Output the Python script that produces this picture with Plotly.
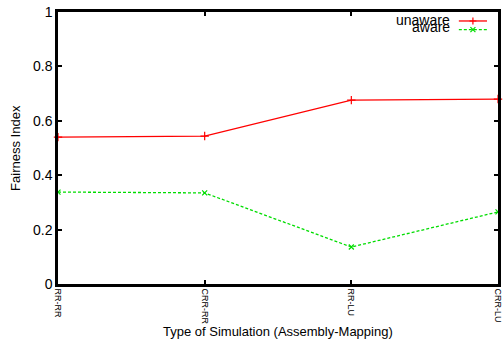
import plotly.graph_objects as go

categories = ["RR-RR", "CRR-RR", "RR-LU", "CRR-LU"]
unaware = [0.540, 0.544, 0.676, 0.680]
aware = [0.338, 0.335, 0.136, 0.265]
yticks = [0, 0.2, 0.4, 0.6, 0.8, 1]
ytick_labels = ["0", "0.2", "0.4", "0.6", "0.8", "1"]

xs = list(range(len(categories)))
font = "Liberation Sans, Arial, sans-serif"

fig = go.Figure()
fig.add_trace(go.Scatter(x=xs, y=unaware, mode="lines+markers", name="unaware",
                         line=dict(color="#ff0000", width=1.3),
                         marker=dict(symbol="cross-thin", size=6, line=dict(color="#ff0000", width=1.2)),
                         cliponaxis=False, showlegend=False))
fig.add_trace(go.Scatter(x=xs, y=aware, mode="lines+markers", name="aware",
                         line=dict(color="#00dd00", width=1.3, dash="3px,2px"),
                         marker=dict(symbol="x-thin", size=5, line=dict(color="#00dd00", width=1.2)),
                         cliponaxis=False, showlegend=False))

# manual legend (gnuplot style: text left, sample right)
leg = [("unaware", "#ff0000", "solid", 0.967, 0.972, "cross-thin"),
       ("aware", "#00dd00", "3px,2px", 0.935, 0.944, "x-thin")]
for name, col, dash, ly, ty, sym in leg:
    fig.add_shape(type="line", xref="paper", yref="paper", x0=0.911, x1=0.975, y0=ly, y1=ly,
                  line=dict(color=col, width=1.3, dash=dash))
    fig.add_annotation(xref="paper", yref="paper", x=0.895, y=ty, text=name, showarrow=False,
                       xanchor="right", yanchor="middle", font=dict(family=font, size=14, color="#000"))
    fig.add_trace(go.Scatter(x=[(0.911 + 0.975) / 2 * 3], y=[ly], mode="markers",
                             marker=dict(symbol=sym, size=5, line=dict(color=col, width=1.2)),
                             showlegend=False, hoverinfo="skip", cliponaxis=False))

fig.add_annotation(xref="paper", yref="paper", x=0.5, y=-0.173, yanchor="middle", xanchor="center",
                   text="Type of Simulation (Assembly-Mapping)", showarrow=False,
                   font=dict(family=font, size=13, color="#000"))
fig.add_annotation(xref="paper", yref="paper", x=-0.098, y=0.5, yanchor="middle", xanchor="center",
                   text="Fairness Index", showarrow=False, textangle=-90,
                   font=dict(family=font, size=13, color="#000"))

fig.update_layout(
    width=503, height=345,
    margin=dict(l=58, r=5, t=12, b=61),
    paper_bgcolor="white", plot_bgcolor="white",
    font=dict(family=font, color="#000"),
    showlegend=False,
    xaxis=dict(range=[0, 3], tickvals=xs, ticktext=categories, tickangle=90, automargin=False,
               ticklabeloverflow="allow",
               tickfont=dict(size=9), ticks="inside", ticklen=4, tickwidth=2, tickcolor="#000",
               showline=True, linecolor="#000", linewidth=2.5, mirror="ticks", showgrid=False,
               zeroline=False),
    yaxis=dict(range=[0, 1], tickvals=yticks, ticktext=ytick_labels, automargin=False,
               tickfont=dict(size=14), ticks="inside", ticklen=4, tickwidth=2, tickcolor="#000",
               showline=True, linecolor="#000", linewidth=2.5, mirror="ticks", showgrid=False,
               zeroline=False),
)

fig.write_html("out.html", config={"displayModeBar": False},
               post_script="document.body.style.margin='0';")
